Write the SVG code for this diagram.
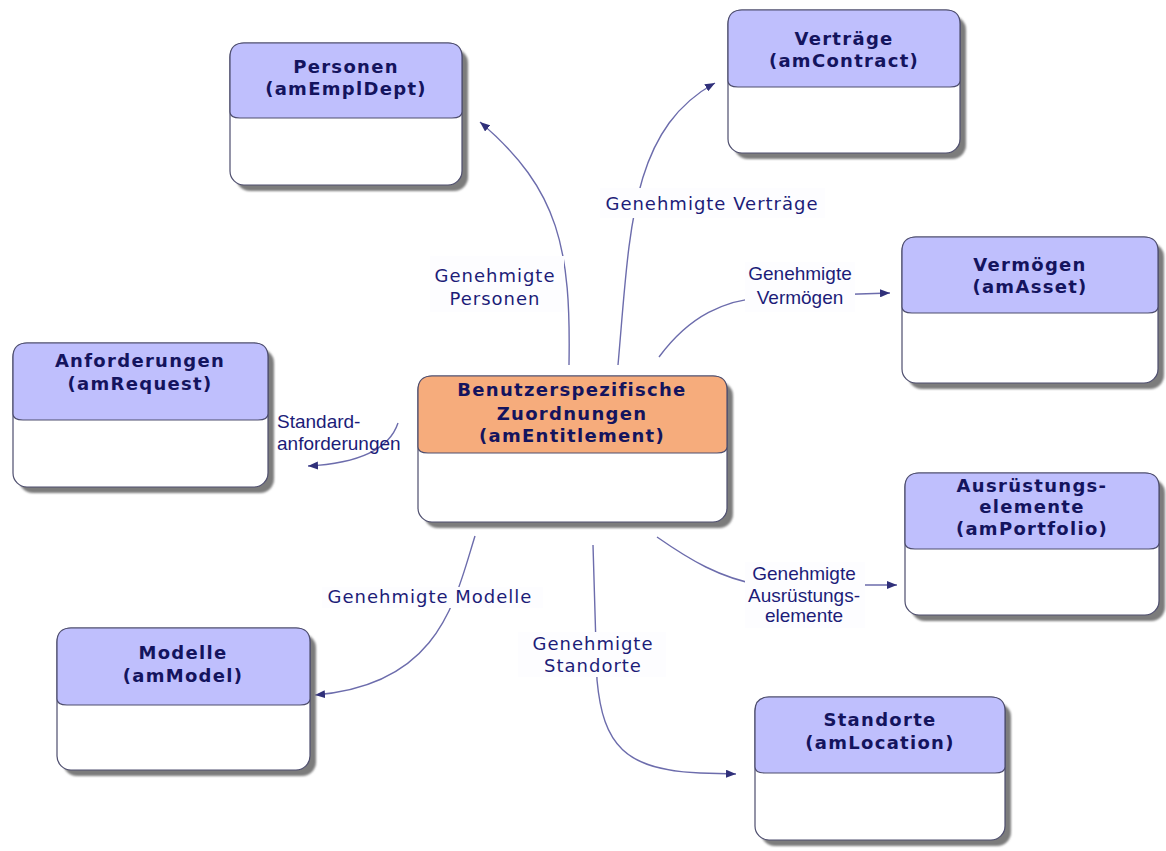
<svg xmlns="http://www.w3.org/2000/svg" width="1166" height="851" viewBox="0 0 1166 851">
<style>
.sh{fill:#7c7c7c;filter:url(#blur)}
.body{fill:#ffffff;stroke:#4e4e6e;stroke-width:1.2}
.hd{fill:#bfbffd;stroke:#4e4e6e;stroke-width:1.2}
.hdc{fill:#f6ac7c;stroke:#4e4e6e;stroke-width:1.2}
.ttl{font-family:"DejaVu Sans",Verdana,sans-serif;font-weight:bold;font-size:18px;letter-spacing:1.3px;fill:#14145e;text-anchor:middle}
.lv{font-family:"DejaVu Sans",Verdana,sans-serif;font-size:18px;letter-spacing:1px;fill:#1c1c78;text-anchor:middle}
.la{font-family:"Liberation Sans",Arial,sans-serif;font-size:19px;fill:#1c1c78;text-anchor:middle}
.lbg{fill:#fdfdff}
.cn{fill:none;stroke:#6c6cac;stroke-width:1.4}
</style>
<defs>
<filter id="blur" x="-10%" y="-10%" width="120%" height="120%"><feGaussianBlur stdDeviation="0.9"/></filter>
<marker id="arr" viewBox="0 0 10 8" refX="10" refY="4" markerWidth="10" markerHeight="8" markerUnits="userSpaceOnUse" orient="auto">
<path d="M0,0 L10,4 L0,8 Z" fill="#30307a"/>
</marker>
</defs>
<rect width="1166" height="851" fill="#ffffff"/>

<g id="connectors">
<path class="cn" d="M569,365 C571,250 560,190 480,122" marker-end="url(#arr)"/>
<path class="cn" d="M618,365 C630,230 630,130 715,83" marker-end="url(#arr)"/>
<path class="cn" d="M659,357 C690,315 725,300 765,297 L890,293" marker-end="url(#arr)"/>
<path class="cn" d="M398,423 Q385,462 308,466" marker-end="url(#arr)"/>
<path class="cn" d="M657,537 C690,560 720,578 760,585 L897,585" marker-end="url(#arr)"/>
<path class="cn" d="M475,536 C455,600 440,685 315,695" marker-end="url(#arr)"/>
<path class="cn" d="M593,545 L597,680 C603,745 625,770 700,773 L736,774" marker-end="url(#arr)"/>
</g>

<g id="labels">
<g id="lbl-personen">
<rect class="lbg" x="430" y="256" width="134" height="56"/>
<text class="lv" x="495" y="282">Genehmigte</text>
<text class="lv" x="495" y="305">Personen</text>
</g>
<g id="lbl-vertraege">
<rect class="lbg" x="600" y="188" width="225" height="30"/>
<text class="lv" x="712" y="210">Genehmigte Verträge</text>
</g>
<g id="lbl-vermoegen">
<rect class="lbg" x="745" y="262" width="110" height="50"/>
<text class="la" x="800" y="280">Genehmigte</text>
<text class="la" x="800" y="304">Vermögen</text>
</g>
<g id="lbl-anforderungen">
<text class="la" x="277" y="428" style="text-anchor:start">Standard-</text>
<text class="la" x="277" y="450" style="text-anchor:start">anforderungen</text>
</g>
<g id="lbl-ausruestung">
<rect class="lbg" x="745" y="562" width="120" height="66"/>
<text class="la" x="804" y="580">Genehmigte</text>
<text class="la" x="804" y="602">Ausrüstungs-</text>
<text class="la" x="804" y="622">elemente</text>
</g>
<g id="lbl-modelle">
<rect class="lbg" x="322" y="587" width="221" height="21"/>
<text class="lv" x="430" y="603">Genehmigte Modelle</text>
</g>
<g id="lbl-standorte">
<rect class="lbg" x="518" y="632" width="148" height="45"/>
<text class="lv" x="593" y="650">Genehmigte</text>
<text class="lv" x="593" y="672">Standorte</text>
</g>
</g>

<g id="node-personen">
<rect class="sh" x="236" y="49" width="232" height="142" rx="14"/>
<rect class="body" x="230" y="43" width="232" height="142" rx="14"/>
<path class="hd" d="M230,112 V57 Q230,43 244,43 H448 Q462,43 462,57 V112 Q462,118 452,118 H240 Q230,118 230,112 Z"/>
<text class="ttl" x="346" y="73">Personen</text>
<text class="ttl" x="346" y="95">(amEmplDept)</text>
</g>

<g id="node-vertraege">
<rect class="sh" x="734" y="16" width="232" height="143" rx="14"/>
<rect class="body" x="728" y="10" width="232" height="143" rx="14"/>
<path class="hd" d="M728,81 V24 Q728,10 742,10 H946 Q960,10 960,24 V81 Q960,87 950,87 H738 Q728,87 728,81 Z"/>
<text class="ttl" x="844" y="45">Verträge</text>
<text class="ttl" x="844" y="67">(amContract)</text>
</g>

<g id="node-vermoegen">
<rect class="sh" x="908" y="243" width="256" height="146" rx="14"/>
<rect class="body" x="902" y="237" width="256" height="146" rx="14"/>
<path class="hd" d="M902,307 V251 Q902,237 916,237 H1144 Q1158,237 1158,251 V307 Q1158,313 1148,313 H912 Q902,313 902,307 Z"/>
<text class="ttl" x="1030" y="271">Vermögen</text>
<text class="ttl" x="1030" y="293">(amAsset)</text>
</g>

<g id="node-anforderungen">
<rect class="sh" x="19" y="349" width="255" height="144" rx="14"/>
<rect class="body" x="13" y="343" width="255" height="144" rx="14"/>
<path class="hd" d="M13,414 V357 Q13,343 27,343 H254 Q268,343 268,357 V414 Q268,420 258,420 H23 Q13,420 13,414 Z"/>
<text class="ttl" x="140" y="367">Anforderungen</text>
<text class="ttl" x="140" y="390">(amRequest)</text>
</g>

<g id="node-zuordnungen">
<rect class="sh" x="424" y="382" width="309" height="146" rx="14"/>
<rect class="body" x="418" y="376" width="309" height="146" rx="14"/>
<path class="hdc" d="M418,447 V390 Q418,376 432,376 H713 Q727,376 727,390 V447 Q727,453 717,453 H428 Q418,453 418,447 Z"/>
<text class="ttl" x="572" y="396">Benutzerspezifische</text>
<text class="ttl" x="572" y="420">Zuordnungen</text>
<text class="ttl" x="572" y="442">(amEntitlement)</text>
</g>

<g id="node-ausruestung">
<rect class="sh" x="911" y="479" width="254" height="142" rx="14"/>
<rect class="body" x="905" y="473" width="254" height="142" rx="14"/>
<path class="hd" d="M905,543 V487 Q905,473 919,473 H1145 Q1159,473 1159,487 V543 Q1159,549 1149,549 H915 Q905,549 905,543 Z"/>
<text class="ttl" x="1032" y="492">Ausrüstungs-</text>
<text class="ttl" x="1032" y="513">elemente</text>
<text class="ttl" x="1032" y="535">(amPortfolio)</text>
</g>

<g id="node-modelle">
<rect class="sh" x="63" y="634" width="253" height="142" rx="14"/>
<rect class="body" x="57" y="628" width="253" height="142" rx="14"/>
<path class="hd" d="M57,699 V642 Q57,628 71,628 H296 Q310,628 310,642 V699 Q310,705 300,705 H67 Q57,705 57,699 Z"/>
<text class="ttl" x="183" y="659">Modelle</text>
<text class="ttl" x="183" y="682">(amModel)</text>
</g>

<g id="node-standorte">
<rect class="sh" x="761" y="703" width="250" height="143" rx="14"/>
<rect class="body" x="755" y="697" width="250" height="143" rx="14"/>
<path class="hd" d="M755,767 V711 Q755,697 769,697 H991 Q1005,697 1005,711 V767 Q1005,773 995,773 H765 Q755,773 755,767 Z"/>
<text class="ttl" x="880" y="726">Standorte</text>
<text class="ttl" x="880" y="749">(amLocation)</text>
</g>
</svg>
